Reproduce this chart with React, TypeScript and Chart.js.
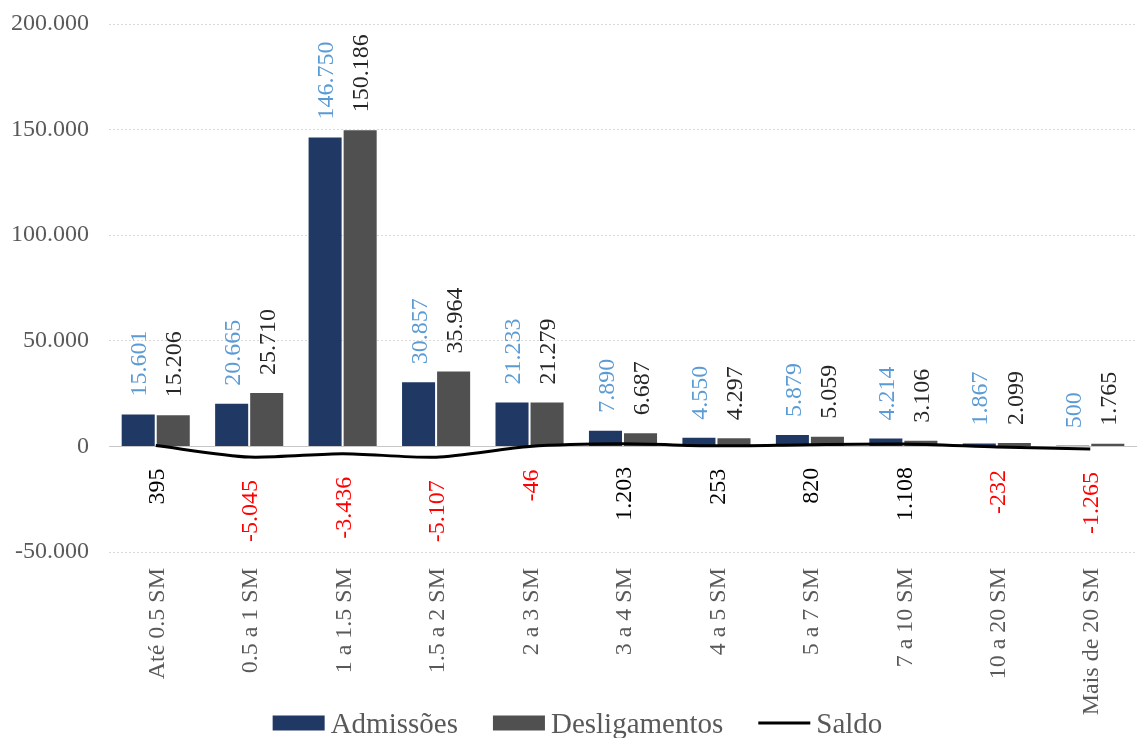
import { useEffect, useRef } from 'react';
import { Chart, registerables } from 'chart.js';

Chart.register(...registerables);

const categories = [
  'Até 0.5 SM', '0.5 a 1 SM', '1 a 1.5 SM', '1.5 a 2 SM', '2 a 3 SM', '3 a 4 SM',
  '4 a 5 SM', '5 a 7 SM', '7 a 10 SM', '10 a 20 SM', 'Mais de 20 SM',
];
const admissoes = [15601, 20665, 146750, 30857, 21233, 7890, 4550, 5879, 4214, 1867, 500];
const desligamentos = [15206, 25710, 150186, 35964, 21279, 6687, 4297, 5059, 3106, 2099, 1765];
const saldo = [395, -5045, -3436, -5107, -46, 1203, 253, 820, 1108, -232, -1265];
const yMin = -50000;
const yMax = 200000;
const yStep = 50000;

const FONT = "'Liberation Serif', 'Times New Roman', serif";
const GREY_TEXT = '#595959';
const COLOR_ADM = '#203864';
const COLOR_DES = '#505050';
const COLOR_SALDO = '#000000';

const fmt = (v: number) => {
  const s = Math.abs(Math.round(v)).toString().replace(/\B(?=(\d{3})+(?!\d))/g, '.');
  return (v < 0 ? '-' : '') + s;
};

const X_AXIS_H = 130;
const BOTTOM_PAD = 56;

const labelsPlugin = {
  id: 'customLabels',
  afterDatasetsDraw(chart: any) {
    const ctx = chart.ctx as CanvasRenderingContext2D;
    const area = chart.chartArea;
    const size = 24;
    ctx.save();
    ctx.font = `${size}px ${FONT}`;
    // bar value labels
    const barColors = ['#5B9BD5', '#262626'];
    [0, 1].forEach((di) => {
      const meta = chart.getDatasetMeta(di);
      const data = chart.data.datasets[di].data as number[];
      meta.data.forEach((el: any, i: number) => {
        ctx.save();
        ctx.translate(el.x, el.y - 17);
        ctx.rotate(-Math.PI / 2);
        ctx.fillStyle = barColors[di];
        ctx.textAlign = 'left';
        ctx.textBaseline = 'alphabetic';
        ctx.fillText(fmt(data[i]), 0, size * 0.34);
        ctx.restore();
      });
    });
    // saldo labels
    const lmeta = chart.getDatasetMeta(2);
    lmeta.data.forEach((el: any, i: number) => {
      const v = saldo[i];
      ctx.save();
      ctx.translate(el.x, el.y + 23);
      ctx.rotate(-Math.PI / 2);
      ctx.fillStyle = v < 0 ? '#FF0000' : '#000000';
      ctx.textAlign = 'right';
      ctx.textBaseline = 'alphabetic';
      ctx.fillText(fmt(v), 0, size * 0.34);
      ctx.restore();
    });
    // category labels
    const xs = chart.scales.x;
    categories.forEach((c, i) => {
      const x = xs.getPixelForValue(i);
      ctx.save();
      ctx.translate(x, area.bottom + 16);
      ctx.rotate(-Math.PI / 2);
      ctx.fillStyle = GREY_TEXT;
      ctx.textAlign = 'right';
      ctx.textBaseline = 'alphabetic';
      ctx.fillText(c, 0, size * 0.34);
      ctx.restore();
    });
    ctx.restore();
  },
  afterDraw(chart: any) {
    const ctx = chart.ctx as CanvasRenderingContext2D;
    const lsize = 29;
    ctx.save();
    ctx.font = `${lsize}px ${FONT}`;
    const items = chart.data.datasets.map((d: any) => ({
      label: d.label as string,
      color: (d.type === 'line' ? d.borderColor : d.backgroundColor) as string,
      isLine: d.type === 'line',
    }));
    const symW = 52;
    const gap = 6;
    const spacing = 35;
    const widths = items.map((it: any) => symW + gap + ctx.measureText(it.label).width);
    const total = widths.reduce((a: number, b: number) => a + b, 0) + spacing * (items.length - 1);
    let x = chart.width / 2 + 9 - total / 2;
    const cy = 723;
    items.forEach((it: any, i: number) => {
      if (it.isLine) {
        ctx.strokeStyle = it.color;
        ctx.lineWidth = 3;
        ctx.beginPath();
        ctx.moveTo(x, cy);
        ctx.lineTo(x + symW, cy);
        ctx.stroke();
      } else {
        ctx.fillStyle = it.color;
        ctx.fillRect(x, cy - 7.5, symW, 15);
      }
      ctx.fillStyle = GREY_TEXT;
      ctx.textAlign = 'left';
      ctx.textBaseline = 'alphabetic';
      ctx.fillText(it.label, x + symW + gap, cy + 10);
      x += widths[i] + spacing;
    });
    ctx.restore();
  },
};

export default function App() {
  const ref = useRef<HTMLCanvasElement | null>(null);
  useEffect(() => {
    if (!ref.current) return;
    Chart.defaults.font.family = FONT;
    const chart = new Chart(ref.current, {
      type: 'bar',
      data: {
        labels: categories,
        datasets: [
          {
            type: 'bar',
            label: 'Admissões',
            data: admissoes,
            backgroundColor: COLOR_ADM,
            borderColor: 'rgba(255,255,255,0.22)',
            borderWidth: 1,
            categoryPercentage: 0.75,
            barPercentage: 1.0,
            order: 1,
          } as any,
          {
            type: 'bar',
            label: 'Desligamentos',
            data: desligamentos,
            backgroundColor: COLOR_DES,
            borderColor: 'rgba(255,255,255,0.22)',
            borderWidth: 1,
            categoryPercentage: 0.75,
            barPercentage: 1.0,
            order: 1,
          } as any,
          {
            type: 'line',
            label: 'Saldo',
            data: saldo,
            borderColor: COLOR_SALDO,
            backgroundColor: COLOR_SALDO,
            borderWidth: 3,
            pointRadius: 0,
            tension: 0.25,
            order: 0,
          } as any,
        ],
      },
      options: {
        animation: false,
        responsive: false,
        maintainAspectRatio: false,
        layout: { padding: { top: 24, right: 0, left: 0, bottom: BOTTOM_PAD } },
        plugins: {
          legend: { display: false },
          tooltip: { enabled: false },
        },
        scales: {
          x: {
            grid: { display: false },
            border: { display: false },
            ticks: { display: false },
            afterFit: (s: any) => { s.height = X_AXIS_H; },
          },
          y: {
            min: yMin,
            max: yMax,
            ticks: {
              stepSize: yStep,
              color: GREY_TEXT,
              font: { family: FONT, size: 24 },
              padding: 20,
              callback: (v: any) => fmt(Number(v)),
            },
            grid: {
              color: (c: any) => (c.tick && c.tick.value === 0 ? '#C8C8C8' : '#D9D9D9'),
              lineWidth: 1,
              drawTicks: false,
            },
            border: {
              display: false,
              dash: (c: any) => (c.tick && c.tick.value === 0 ? [] : [2, 2]),
            },
            afterFit: (s: any) => {
              s.width = 109;
              s.paddingTop = 0;
              s.paddingBottom = 0;
            },
          },
        },
      } as any,
      plugins: [labelsPlugin],
    });
    return () => chart.destroy();
  }, []);
  return (
    <div style={{ position: 'fixed', left: 0, top: 0, width: 1137, height: 738, background: '#fff' }}>
      <canvas ref={ref} width={1137} height={738} style={{ display: 'block' }} />
    </div>
  );
}
